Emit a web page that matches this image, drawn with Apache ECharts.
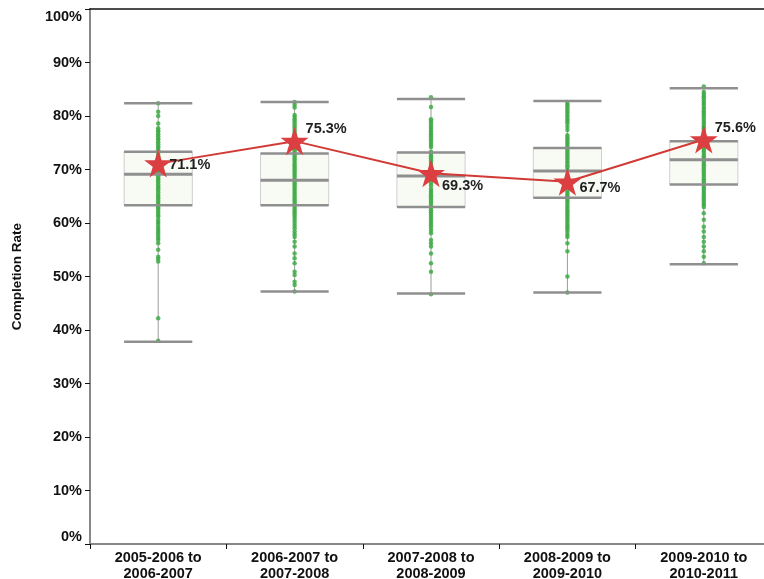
<!DOCTYPE html>
<html>
<head>
<meta charset="utf-8">
<script src="https://cdn.jsdelivr.net/npm/echarts@6/dist/echarts.min.js"></script>
<style>
  html, body { margin: 0; padding: 0; background: #fff; }
  #chart { width: 764px; height: 579px; }
</style>
</head>
<body>
<div id="chart"></div>
<script>
// categories (school year pairs)
const categories = ['2005-2006 to\n2006-2007', '2006-2007 to\n2007-2008', '2007-2008 to\n2008-2009', '2008-2009 to\n2009-2010', '2009-2010 to\n2010-2011'];

// box statistics, percent
const boxMin = [37.8, 47.2, 46.8, 47.0, 52.3];
const boxQ1 = [63.3, 63.3, 63.0, 64.7, 67.2];
const boxMedian = [69.1, 68.0, 68.8, 69.7, 71.8];
const boxQ3 = [73.3, 73.0, 73.2, 74.0, 75.3];
const boxMax = [82.4, 82.6, 83.2, 82.8, 85.2];

// overall completion rate (stars)
const overall = [71.1, 75.3, 69.3, 67.7, 75.6];

// individual schools
const dots1 = [82.4, 80.8, 80.0, 78.6, 77.7, 77.3, 77.0, 76.6, 76.2, 75.8, 75.5, 75.1, 74.7, 74.3, 74.0, 73.6, 73.3, 72.9, 72.5, 72.1, 71.8, 71.4, 71.0, 70.6, 70.2, 69.9, 69.5, 69.1, 68.7, 68.3, 68.0, 67.6, 67.2, 66.8, 66.5, 66.1, 65.7, 65.3, 64.9, 64.6, 64.2, 63.8, 63.4, 63.0, 62.7, 62.3, 61.9, 61.5, 61.2, 60.6, 60.2, 59.8, 59.3, 58.9, 58.5, 58.1, 57.6, 57.2, 56.8, 56.2, 55.0, 53.7, 53.3, 52.8, 42.2, 38.0];
const dots2 = [82.6, 82.1, 81.6, 80.2, 79.8, 79.4, 79.0, 78.6, 78.2, 77.8, 77.4, 77.0, 76.6, 76.2, 75.8, 75.4, 75.0, 74.6, 74.2, 73.8, 73.4, 73.0, 72.6, 72.2, 71.8, 71.4, 71.0, 70.6, 70.2, 69.8, 69.4, 69.0, 68.6, 68.2, 67.8, 67.4, 67.0, 66.6, 66.2, 65.8, 65.4, 65.0, 64.6, 64.2, 63.8, 63.4, 63.0, 62.6, 62.2, 61.8, 61.4, 61.0, 60.5, 60.0, 59.5, 59.0, 58.4, 57.9, 57.4, 56.5, 55.6, 54.3, 53.4, 52.5, 50.9, 50.3, 49.0, 48.4, 47.2];
const dots3 = [83.5, 81.7, 79.4, 79.0, 78.6, 78.2, 77.8, 77.4, 77.0, 76.6, 76.2, 75.8, 75.4, 75.0, 74.6, 74.2, 73.3, 72.9, 72.5, 72.1, 71.7, 71.3, 70.9, 70.5, 70.1, 69.6, 69.0, 68.5, 68.0, 67.5, 67.0, 66.4, 66.0, 65.6, 65.2, 64.8, 64.4, 64.0, 63.6, 63.2, 62.8, 62.4, 62.0, 61.6, 61.2, 60.8, 60.4, 60.0, 59.6, 59.1, 58.6, 58.1, 56.8, 56.2, 55.6, 54.3, 52.5, 50.9, 46.7];
const dots4 = [82.6, 82.2, 81.8, 81.4, 81.0, 80.6, 80.2, 79.8, 79.4, 79.0, 78.6, 78.0, 77.4, 76.4, 76.0, 75.6, 75.2, 74.8, 74.4, 74.0, 73.6, 73.2, 72.8, 72.4, 72.0, 71.6, 71.2, 70.8, 70.4, 69.9, 69.0, 68.0, 67.0, 66.0, 65.6, 65.2, 64.8, 64.4, 64.0, 63.6, 63.2, 62.8, 62.4, 62.0, 61.6, 61.2, 60.8, 60.4, 60.0, 59.6, 59.2, 58.8, 58.3, 57.8, 57.4, 56.2, 54.7, 50.0, 47.0];
const dots5 = [85.5, 84.5, 84.1, 83.7, 83.3, 82.9, 82.5, 82.1, 81.7, 81.3, 80.9, 80.5, 80.1, 79.7, 79.3, 78.9, 78.5, 78.1, 77.7, 77.3, 76.9, 76.5, 76.1, 75.7, 75.3, 74.9, 74.5, 74.1, 73.7, 73.3, 72.9, 72.5, 72.1, 71.8, 71.4, 71.0, 70.6, 70.2, 69.8, 69.4, 69.0, 68.6, 68.2, 67.8, 67.4, 67.0, 66.6, 66.2, 65.8, 65.4, 65.0, 64.6, 64.2, 63.8, 63.4, 63.0, 61.8, 60.6, 59.3, 58.4, 57.4, 56.5, 55.6, 54.7, 53.7, 52.5];
const dotsAll = [dots1, dots2, dots3, dots4, dots5];

// label nudges for the star values
const labelOffsets = [[-3, 1], [-3, -12], [-3, 13], [-2, 6], [-3, -12]];

const chart = echarts.init(document.getElementById('chart'));

const boxData = categories.map((c, i) => [i, boxMin[i], boxQ1[i], boxMedian[i], boxQ3[i], boxMax[i]]);
const dotData = [];
dotsAll.forEach((arr, i) => arr.forEach(v => dotData.push([i, v])));

const starPath = 'path://M50,0 L61.8,35.3 L99,35.3 L69,57.1 L80.3,92.7 L50,70.9 L19.7,92.7 L31,57.1 L1,35.3 L38.2,35.3 Z';
const grey = '#8f8f8f';

function boxBack(params, api) {
  const x = api.value(0);
  const half = api.size([1, 0])[0] * 0.25;
  const pMin = api.coord([x, api.value(1)]);
  const pQ1 = api.coord([x, api.value(2)]);
  const pQ3 = api.coord([x, api.value(4)]);
  const pMax = api.coord([x, api.value(5)]);
  return {
    type: 'group',
    children: [
      { type: 'line', shape: { x1: pMax[0], y1: pMax[1], x2: pMin[0], y2: pMin[1] }, style: { stroke: '#9a9a9a', lineWidth: 1 } },
      { type: 'rect', shape: { x: pQ3[0] - half, y: pQ3[1], width: half * 2, height: pQ1[1] - pQ3[1] }, style: { fill: 'rgba(246,251,243,0.9)', stroke: '#cfcfcf', lineWidth: 1 } }
    ]
  };
}

function boxFront(params, api) {
  const x = api.value(0);
  const half = api.size([1, 0])[0] * 0.25;
  const hl = (v, w) => {
    const p = api.coord([x, v]);
    return { type: 'line', shape: { x1: p[0] - half, y1: p[1], x2: p[0] + half, y2: p[1] }, style: { stroke: grey, lineWidth: w } };
  };
  return {
    type: 'group',
    children: [hl(api.value(1), 2.5), hl(api.value(2), 2.5), hl(api.value(3), 3), hl(api.value(4), 2.5), hl(api.value(5), 2.5)]
  };
}

const option = {
  animation: false,
  grid: { left: 90, top: 9, width: 682, height: 535, outerBoundsMode: 'none', containLabel: false },
  xAxis: [
    {
      type: 'category',
      data: categories,
      boundaryGap: true,
      axisLine: { lineStyle: { color: '#888', width: 2 } },
      axisTick: { show: true, alignWithLabel: false, length: 5, lineStyle: { color: '#111', width: 1 } },
      axisLabel: { color: '#111', fontFamily: 'Liberation Sans, Arial', fontWeight: 'bold', fontSize: 14.5, lineHeight: 16, margin: 6 },
      splitLine: { show: false }
    },
    {
      type: 'category',
      position: 'top',
      data: categories,
      axisLine: { lineStyle: { color: '#111', width: 1.5 } },
      axisTick: { show: false },
      axisLabel: { show: false }
    }
  ],
  yAxis: {
    type: 'value',
    min: 0,
    max: 100,
    interval: 10,
    name: 'Completion Rate',
    nameLocation: 'middle',
    nameGap: 66,
    nameTextStyle: { color: '#111', fontFamily: 'Liberation Sans, Arial', fontWeight: 'bold', fontSize: 13.5 },
    axisLine: { show: true, lineStyle: { color: '#888', width: 2 } },
    axisTick: { show: true, length: 5, lineStyle: { color: '#111', width: 1 } },
    axisLabel: {
      formatter: '{value}%', color: '#111', fontFamily: 'Liberation Sans, Arial', fontWeight: 'bold', fontSize: 14.5, margin: 8,
      verticalAlignMaxLabel: 'top', verticalAlignMinLabel: 'bottom'
    },
    splitLine: { show: false }
  },
  series: [
    { type: 'custom', name: 'box', renderItem: boxBack, data: boxData, z: 1, encode: { x: 0, y: [1, 5] } },
    {
      type: 'scatter', name: 'schools', data: dotData, symbolSize: 4.5, z: 2,
      itemStyle: { color: '#3fab47', opacity: 0.85 }
    },
    { type: 'custom', name: 'boxlines', renderItem: boxFront, data: boxData, z: 3, encode: { x: 0, y: [1, 5] } },
    {
      type: 'line', name: 'overall', z: 4,
      data: overall.map((v, i) => ({
        value: v,
        label: { offset: labelOffsets[i] }
      })),
      lineStyle: { color: '#d23a36', width: 2 },
      symbol: starPath,
      symbolSize: 28,
      itemStyle: { color: '#dc3f42' },
      label: {
        show: true, position: 'right', distance: 0,
        formatter: p => p.value + '%',
        color: '#1f1f1f', fontFamily: 'Liberation Sans, Arial', fontWeight: 'bold', fontSize: 14.5
      }
    }
  ]
};

chart.setOption(option);
</script>
</body>
</html>
